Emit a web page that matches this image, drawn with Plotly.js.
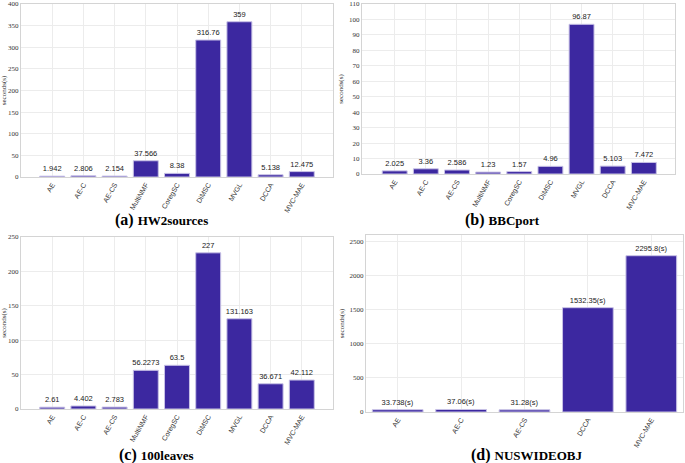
<!DOCTYPE html>
<html>
<head>
<meta charset="utf-8">
<script src="https://cdn.plot.ly/plotly-3.0.1.min.js"></script>
<style>html,body{margin:0;padding:0;background:#fff;}#chart{width:685px;height:463px;}</style>
</head>
<body>
<div id="chart"></div>
<script>
// Data
const methods9 = ['AE', 'AE-C', 'AE-CS', 'MultiNMF', 'CoregSC', 'DiMSC', 'MVGL', 'DCCA', 'MVC-MAE'];
const methods5 = ['AE', 'AE-C', 'AE-CS', 'DCCA', 'MVC-MAE'];
const hw2sources = [1.942, 2.806, 2.154, 37.566, 8.38, 316.76, 359, 5.138, 12.475];
const bbcport = [2.025, 3.36, 2.586, 1.23, 1.57, 4.96, 96.87, 5.103, 7.472];
const leaves100 = [2.61, 4.402, 2.783, 56.2273, 63.5, 227, 131.163, 36.671, 42.112];
const nuswideobj = [33.738, 37.06, 31.28, 1532.35, 2295.8];
const nusLabels = ['33.738(s)', '37.06(s)', '31.28(s)', '1532.35(s)', '2295.8(s)'];
const captions = ['(a)', '(b)', '(c)', '(d)'];
const names = ['HW2sources', 'BBCport', '100leaves', 'NUSWIDEOBJ'];

const W = 685, H = 463;
const barColor = '#3c28a0';
const barLine = '#c8c2e6';
const SANS = 'Liberation Sans';
const SERIF = 'Liberation Serif';

function bar(x, y, text, xa, ya) {
  return {
    type: 'bar', x: x, y: y, text: text,
    xaxis: xa, yaxis: ya,
    width: 0.8,
    marker: {color: barColor, line: {color: barLine, width: 1}},
    textposition: 'outside', cliponaxis: false, constraintext: 'none',
    textfont: {family: SANS, size: 7.5, color: '#222'},
    hoverinfo: 'skip', showlegend: false
  };
}

const traces = [
  bar(methods9, hw2sources, hw2sources.map(String), 'x', 'y'),
  bar(methods9, bbcport, bbcport.map(String), 'x2', 'y2'),
  bar(methods9, leaves100, leaves100.map(String), 'x3', 'y3'),
  bar(methods5, nuswideobj, nusLabels, 'x4', 'y4')
];

function xax(domain, anchor, range) {
  return {
    domain: domain, anchor: anchor, range: range, type: 'category',
    tickangle: -60, showgrid: true, gridcolor: '#ececec', gridwidth: 1,
    showline: true, linecolor: '#d4d4d4', mirror: true,
    ticks: '', zeroline: false,
    tickfont: {family: SANS, size: 7, color: '#333'}
  };
}
function yax(domain, anchor, range, dtick) {
  return {
    domain: domain, anchor: anchor, range: range, dtick: dtick, tick0: 0,
    showgrid: true, gridcolor: '#ececec', gridwidth: 1,
    showline: true, linecolor: '#d4d4d4', mirror: true,
    zeroline: false, ticks: '', ticklabeloverflow: 'allow',
    tickfont: {family: SERIF, size: 7, color: '#333'},
    title: {text: 'seconds(s)', font: {family: SERIF, size: 7, color: '#333'}, standoff: 4}
  };
}

const px = v => v / W;
const py = v => 1 - v / H;

const layout = {
  width: W, height: H,
  margin: {l: 0, r: 0, t: 0, b: 0},
  paper_bgcolor: '#fff', plot_bgcolor: '#fff',
  bargap: 0.2,
  xaxis: xax([px(21), px(333)], 'y', [-1, 9]),
  yaxis: yax([py(177), py(4)], 'x', [0, 400.01], 50),
  xaxis2: xax([px(362), px(675)], 'y2', [-1.05, 9]),
  yaxis2: yax([py(174), py(4)], 'x2', [0, 110.01], 10),
  xaxis3: xax([px(21), px(333)], 'y3', [-1, 9]),
  yaxis3: yax([py(409), py(237)], 'x3', [0, 250.01], 50),
  xaxis4: xax([px(366), px(683)], 'y4', [-0.5, 4.5]),
  yaxis4: yax([py(412), py(235)], 'x4', [0, 2600], 500),
  annotations: [
    [161, 220], [502, 220], [156, 455], [526, 455]
  ].map((p, i) => ({
    xref: 'paper', yref: 'paper', x: px(p[0]), y: py(p[1]),
    xanchor: 'center', yanchor: 'middle', showarrow: false,
    text: '<b>' + captions[i] + ' <span style="font-size:13px">' + names[i] + '</span></b>',
    font: {family: SERIF, size: 16, color: '#000'}
  }))
};

Plotly.newPlot('chart', traces, layout, {staticPlot: true, displayModeBar: false});
</script>
</body>
</html>
